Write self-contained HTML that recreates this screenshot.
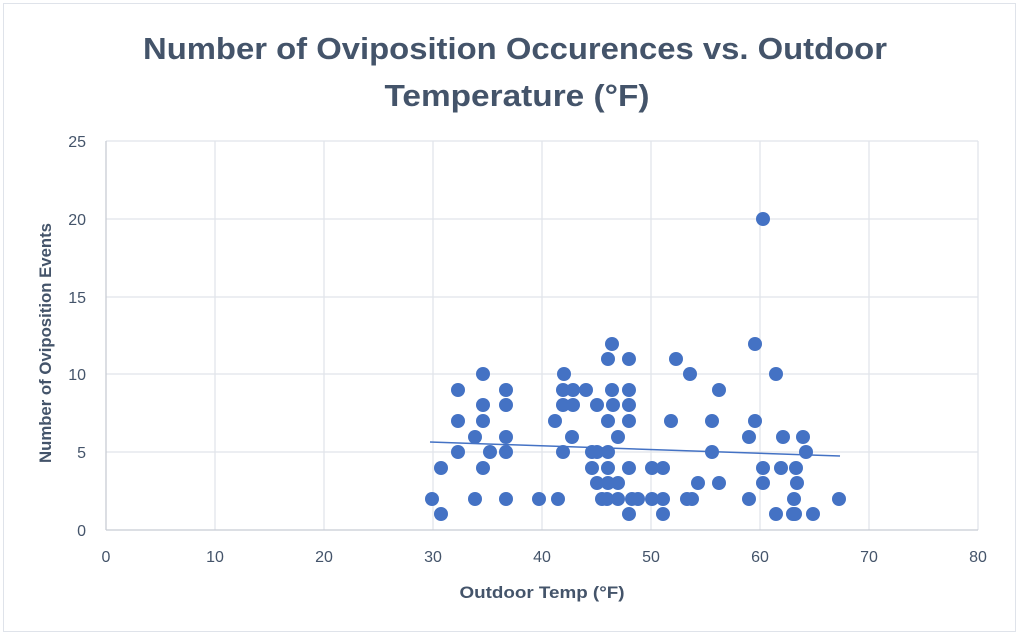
<!DOCTYPE html>
<html><head><style>body{margin:0;background:#fff}svg{display:block}</style></head><body>
<svg width="1023" height="641" xmlns="http://www.w3.org/2000/svg" font-family="Liberation Sans, sans-serif">
<rect x="3.5" y="3.5" width="1012" height="628" fill="#fff" stroke="#dfe3ea"/>
<text x="515" y="59" text-anchor="middle" font-size="31" font-weight="bold" fill="#44546a" textLength="744" lengthAdjust="spacingAndGlyphs">Number of Oviposition Occurences vs. Outdoor</text>
<text x="517" y="106" text-anchor="middle" font-size="31" font-weight="bold" fill="#44546a" textLength="265" lengthAdjust="spacingAndGlyphs">Temperature (°F)</text>
<g stroke="#e1e4ea" stroke-width="1.3">
<line x1="106" y1="141" x2="978" y2="141"/><line x1="106" y1="219" x2="978" y2="219"/><line x1="106" y1="297" x2="978" y2="297"/><line x1="106" y1="374" x2="978" y2="374"/><line x1="106" y1="452" x2="978" y2="452"/>
<line x1="215" y1="141" x2="215" y2="530"/><line x1="324" y1="141" x2="324" y2="530"/><line x1="433" y1="141" x2="433" y2="530"/><line x1="542" y1="141" x2="542" y2="530"/><line x1="651" y1="141" x2="651" y2="530"/><line x1="760" y1="141" x2="760" y2="530"/><line x1="869" y1="141" x2="869" y2="530"/><line x1="978" y1="141" x2="978" y2="530"/>
</g>
<line x1="106" y1="141" x2="106" y2="530" stroke="#c8ccd4" stroke-width="1.3"/>
<line x1="106" y1="530" x2="978" y2="530" stroke="#c8ccd4" stroke-width="1.3"/>
<g font-size="16" fill="#44546a" text-anchor="end">
<text x="86" y="147">25</text><text x="86" y="225">20</text><text x="86" y="303">15</text><text x="86" y="380">10</text><text x="86" y="458">5</text><text x="86" y="536">0</text>
</g>
<g font-size="16" fill="#44546a" text-anchor="middle">
<text x="106" y="562">0</text><text x="215" y="562">10</text><text x="324" y="562">20</text><text x="433" y="562">30</text><text x="542" y="562">40</text><text x="651" y="562">50</text><text x="760" y="562">60</text><text x="869" y="562">70</text><text x="978" y="562">80</text>
</g>
<text x="542" y="598" text-anchor="middle" font-size="17" font-weight="bold" fill="#44546a" textLength="165" lengthAdjust="spacingAndGlyphs">Outdoor Temp (°F)</text>
<text transform="translate(51,343) rotate(-90)" text-anchor="middle" font-size="17" font-weight="bold" fill="#44546a" textLength="240" lengthAdjust="spacingAndGlyphs">Number of Oviposition Events</text>
<g fill="#4472c4">
<circle cx="432" cy="499" r="7"/><circle cx="441" cy="514" r="7"/><circle cx="441" cy="468" r="7"/><circle cx="458" cy="390" r="7"/><circle cx="458" cy="421" r="7"/><circle cx="458" cy="452" r="7"/><circle cx="475" cy="437" r="7"/><circle cx="475" cy="499" r="7"/><circle cx="483" cy="374" r="7"/><circle cx="483" cy="405" r="7"/><circle cx="483" cy="421" r="7"/><circle cx="483" cy="468" r="7"/><circle cx="490" cy="452" r="7"/><circle cx="506" cy="390" r="7"/><circle cx="506" cy="405" r="7"/><circle cx="506" cy="437" r="7"/><circle cx="506" cy="452" r="7"/><circle cx="506" cy="499" r="7"/><circle cx="539" cy="499" r="7"/><circle cx="555" cy="421" r="7"/><circle cx="558" cy="499" r="7"/><circle cx="563" cy="452" r="7"/><circle cx="564" cy="374" r="7"/><circle cx="563" cy="390" r="7"/><circle cx="563" cy="405" r="7"/><circle cx="573" cy="390" r="7"/><circle cx="573" cy="405" r="7"/><circle cx="572" cy="437" r="7"/><circle cx="586" cy="390" r="7"/><circle cx="592" cy="452" r="7"/><circle cx="597" cy="452" r="7"/><circle cx="608" cy="452" r="7"/><circle cx="592" cy="468" r="7"/><circle cx="597" cy="483" r="7"/><circle cx="602" cy="499" r="7"/><circle cx="607" cy="499" r="7"/><circle cx="618" cy="499" r="7"/><circle cx="608" cy="483" r="7"/><circle cx="618" cy="483" r="7"/><circle cx="608" cy="468" r="7"/><circle cx="597" cy="405" r="7"/><circle cx="608" cy="421" r="7"/><circle cx="612" cy="390" r="7"/><circle cx="613" cy="405" r="7"/><circle cx="612" cy="344" r="7"/><circle cx="608" cy="359" r="7"/><circle cx="618" cy="437" r="7"/><circle cx="629" cy="359" r="7"/><circle cx="629" cy="390" r="7"/><circle cx="629" cy="405" r="7"/><circle cx="629" cy="421" r="7"/><circle cx="629" cy="468" r="7"/><circle cx="629" cy="514" r="7"/><circle cx="632" cy="499" r="7"/><circle cx="638" cy="499" r="7"/><circle cx="652" cy="468" r="7"/><circle cx="663" cy="468" r="7"/><circle cx="652" cy="499" r="7"/><circle cx="663" cy="499" r="7"/><circle cx="663" cy="514" r="7"/><circle cx="676" cy="359" r="7"/><circle cx="690" cy="374" r="7"/><circle cx="671" cy="421" r="7"/><circle cx="687" cy="499" r="7"/><circle cx="692" cy="499" r="7"/><circle cx="698" cy="483" r="7"/><circle cx="719" cy="390" r="7"/><circle cx="712" cy="421" r="7"/><circle cx="712" cy="452" r="7"/><circle cx="719" cy="483" r="7"/><circle cx="755" cy="344" r="7"/><circle cx="749" cy="437" r="7"/><circle cx="755" cy="421" r="7"/><circle cx="749" cy="499" r="7"/><circle cx="776" cy="374" r="7"/><circle cx="763" cy="468" r="7"/><circle cx="763" cy="483" r="7"/><circle cx="781" cy="468" r="7"/><circle cx="776" cy="514" r="7"/><circle cx="783" cy="437" r="7"/><circle cx="803" cy="437" r="7"/><circle cx="806" cy="452" r="7"/><circle cx="796" cy="468" r="7"/><circle cx="797" cy="483" r="7"/><circle cx="794" cy="499" r="7"/><circle cx="793" cy="514" r="7"/><circle cx="795" cy="514" r="7"/><circle cx="813" cy="514" r="7"/><circle cx="839" cy="499" r="7"/><circle cx="763" cy="219" r="7"/>
</g>
<line x1="430" y1="442" x2="840" y2="456" stroke="#4472c4" stroke-width="1.5"/>
</svg>
</body></html>
